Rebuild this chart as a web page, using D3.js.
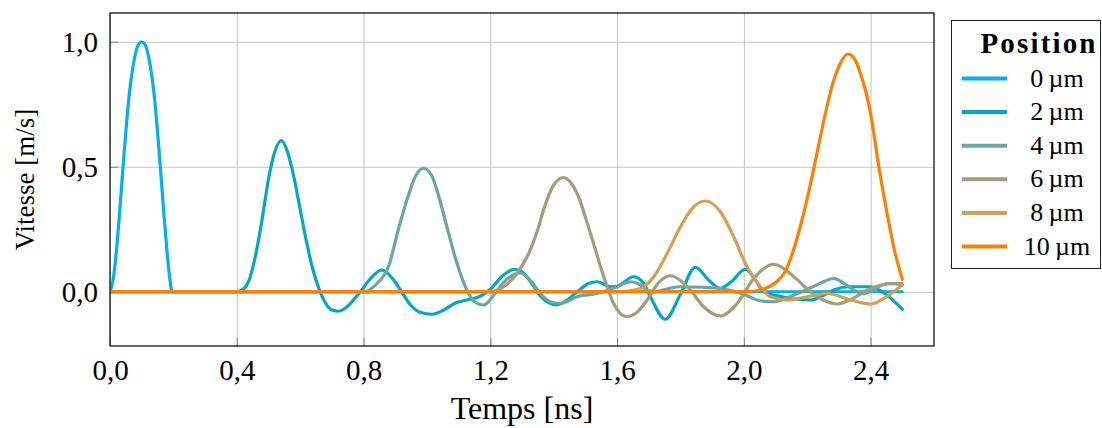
<!DOCTYPE html>
<html><head><meta charset="utf-8">
<script src="https://cdn.jsdelivr.net/npm/d3@7"></script>
<style>
body{margin:0;background:#fff}
svg text{font-family:"Liberation Serif","DejaVu Serif","Noto Serif",serif;}
</style>
</head><body><svg id="c" width="1102" height="428"></svg>
<script>
// ---- data ----
const xTicks = [0, 0.4, 0.8, 1.2, 1.6, 2.0, 2.4];
const yTicks = [0, 0.5, 1.0];
const seriesNames = ["0\u2009µm", "2\u2009µm", "4\u2009µm", "6\u2009µm", "8\u2009µm", "10\u2009µm"];
const seriesColors = ["#00b0f0", "#00a8c6", "#6ba7a0", "#a09f7c", "#d2a055", "#ff8000"];

const t0 = [0,0.01,0.02,0.03,0.04,0.05,0.06,0.07,0.08,0.09,0.10,0.11,0.12,0.13,0.14,0.15,0.16,0.17,0.18,0.19,0.195,2.5];
const v0 = [0,0.05,0.16,0.31,0.48,0.64,0.78,0.88,0.95,0.99,1.0,0.99,0.95,0.88,0.78,0.64,0.48,0.31,0.16,0.04,0,0];

const t2 = [0,0.40,0.42,0.44,0.46,0.48,0.50,0.52,0.54,0.56,0.58,0.60,0.62,0.64,0.66,0.68,0.70,0.72,0.74,0.76,0.79,0.82,0.858,0.89,0.92,0.95,0.98,1.016,1.05,1.09,1.137,1.17,1.20,1.24,1.277,1.30,1.33,1.36,1.41,1.44,1.474,1.51,1.537,1.58,1.60,1.652,1.68,1.705,1.752,1.80,1.847,1.89,1.926,1.96,2.005,2.035,2.063,2.12,2.21,2.25,2.29,2.33,2.40,2.45,2.5];
const v2 = [0,0,0.01,0.05,0.15,0.29,0.45,0.56,0.605,0.56,0.46,0.33,0.20,0.09,0.01,-0.045,-0.073,-0.078,-0.068,-0.045,0,0.05,0.087,0.055,0,-0.055,-0.083,-0.09,-0.075,-0.045,-0.03,-0.017,0.01,0.065,0.09,0.08,0.035,-0.02,-0.053,-0.035,0,0.033,0.04,0.02,0.022,0.06,0.04,-0.02,-0.11,-0.01,0.098,0.045,0.013,0.04,0.09,0.05,0,-0.02,-0.033,-0.015,0.01,0.02,0.02,-0.012,-0.07];

const t4 = [0,0.80,0.84,0.88,0.91,0.94,0.965,0.989,1.015,1.04,1.063,1.095,1.126,1.15,1.179,1.21,1.24,1.295,1.33,1.358,1.39,1.421,1.474,1.537,1.60,1.642,1.67,1.695,1.72,1.76,1.80,1.87,1.926,1.96,2.005,2.05,2.095,2.158,2.21,2.242,2.284,2.32,2.347,2.375,2.41,2.452,2.5];
const v4 = [0,0,0.03,0.105,0.25,0.38,0.465,0.494,0.465,0.37,0.26,0.113,0.007,-0.04,-0.053,-0.015,0.035,0.075,0.04,-0.007,-0.04,-0.047,-0.02,-0.007,0.02,0.04,0.03,0.007,0,0.012,0.02,0.018,0.013,0.005,-0.013,-0.036,-0.04,-0.013,0.015,0.035,0.053,0.03,0.007,-0.008,0.01,0.033,0.027];

const t6 = [0,1.20,1.242,1.284,1.326,1.35,1.368,1.40,1.431,1.455,1.474,1.516,1.558,1.589,1.63,1.66,1.695,1.73,1.768,1.80,1.831,1.873,1.926,1.979,2.031,2.095,2.158,2.21,2.263,2.294,2.33,2.40,2.474,2.5];
const v6 = [0,0,0.02,0.073,0.167,0.25,0.327,0.427,0.457,0.435,0.393,0.233,0.06,-0.047,-0.1,-0.085,-0.033,0.035,0.064,0.045,0.007,-0.06,-0.097,-0.047,0.053,0.11,0.06,0,-0.04,-0.049,-0.035,0.013,0.033,0.033];

const t8 = [0,1.60,1.64,1.673,1.716,1.758,1.80,1.842,1.879,1.926,1.968,2.01,2.052,2.084,2.137,2.20,2.263,2.33,2.40,2.45,2.5];
const v8 = [0,0,0.004,0.013,0.06,0.153,0.26,0.34,0.363,0.32,0.22,0.10,0.02,-0.02,-0.033,-0.02,-0.007,-0.03,-0.049,-0.02,0.027];

const t10 = [0,2.00,2.04,2.065,2.085,2.105,2.13,2.155,2.18,2.205,2.23,2.255,2.28,2.305,2.328,2.35,2.368,2.385,2.40,2.426,2.452,2.474,2.5];
const v10 = [0,0,0.004,0.012,0.024,0.042,0.08,0.16,0.27,0.40,0.55,0.70,0.83,0.915,0.951,0.93,0.873,0.80,0.713,0.5,0.313,0.173,0.05];

const seriesT = [t0, t2, t4, t6, t8, t10];
const seriesV = [v0, v2, v4, v6, v8, v10];

// ---- layout ----
const L = 110, R = 934, T = 13, B = 346;
const svg = d3.select("#c");
const x = d3.scaleLinear().domain([0, 2.6]).range([L, R]);
const y = d3.scaleLinear().domain([-0.217, 1.115]).range([B, T]);
const fmt = d => d3.format(".1f")(d).replace(".", ",");

// grid
svg.append("g").attr("transform", `translate(0,${B})`)
  .call(d3.axisBottom(x).tickValues(xTicks).tickSize(-(B - T)).tickFormat(""))
  .call(g => g.select(".domain").remove())
  .call(g => g.selectAll("line").attr("stroke", "#c4c4c4").attr("stroke-width", 1));
svg.append("g").attr("transform", `translate(${L},0)`)
  .call(d3.axisLeft(y).tickValues(yTicks).tickSize(-(R - L)).tickFormat(""))
  .call(g => g.select(".domain").remove())
  .call(g => g.selectAll("line").attr("stroke", "#c4c4c4").attr("stroke-width", 1));

// tick marks + labels
const xa = svg.append("g").attr("transform", `translate(0,${B})`)
  .call(d3.axisBottom(x).tickValues(xTicks).tickSizeInner(-8).tickSizeOuter(0).tickPadding(13).tickFormat(fmt));
xa.attr("font-family", null);
xa.select(".domain").remove();
xa.selectAll("line").attr("stroke", "#808080");
xa.selectAll("text").attr("font-size", 29).attr("fill", "#000");

const ya = svg.append("g").attr("transform", `translate(${L},0)`)
  .call(d3.axisLeft(y).tickValues(yTicks).tickSizeInner(-8).tickSizeOuter(0).tickPadding(12).tickFormat(fmt));
ya.attr("font-family", null);
ya.select(".domain").remove();
ya.selectAll("line").attr("stroke", "#808080");
ya.selectAll("text").attr("font-size", 29).attr("fill", "#000");

// lines
const line = d3.line().curve(d3.curveMonotoneX);
svg.append("clipPath").attr("id", "pc").append("rect")
  .attr("x", L).attr("y", T).attr("width", R - L).attr("height", B - T);
seriesT.forEach((ts, i) => {
  const pts = ts.map((t, k) => [x(t), y(seriesV[i][k])]);
  svg.append("path").attr("d", line(pts)).attr("fill", "none")
    .attr("stroke", seriesColors[i]).attr("stroke-width", 3.2)
    .attr("stroke-linejoin", "round").attr("stroke-linecap", "round")
    .attr("clip-path", "url(#pc)");
});

// frame
svg.append("rect").attr("x", L).attr("y", T).attr("width", R - L).attr("height", B - T)
  .attr("fill", "none").attr("stroke", "#000").attr("stroke-width", 1.2);

// axis labels
svg.append("text").attr("x", (L + R) / 2).attr("y", 419).attr("text-anchor", "middle")
  .attr("font-size", 32).text("Temps [ns]");
svg.append("text").attr("transform", `translate(34,${(T + B) / 2}) rotate(-90)`)
  .attr("text-anchor", "middle").attr("font-size", 27).text("Vitesse [m/s]");

// legend
const lg = svg.append("g");
lg.append("rect").attr("x", 951.5).attr("y", 20.5).attr("width", 149).attr("height", 248)
  .attr("fill", "#fff").attr("stroke", "#222").attr("stroke-width", 1);
lg.append("text").attr("x", 1038).attr("y", 53).attr("text-anchor", "middle")
  .attr("font-weight", "bold").attr("font-size", 29)
  .attr("textLength", 115).attr("lengthAdjust", "spacing").text("Position");
seriesNames.forEach((n, i) => {
  const yy = 78.5 + i * 33.6;
  lg.append("line").attr("x1", 962).attr("x2", 1007).attr("y1", yy).attr("y2", yy)
    .attr("stroke", seriesColors[i]).attr("stroke-width", 4);
  lg.append("text").attr("x", 1057).attr("y", yy + 8).attr("text-anchor", "middle")
    .attr("font-size", 26).text(n);
});
</script></body></html>
